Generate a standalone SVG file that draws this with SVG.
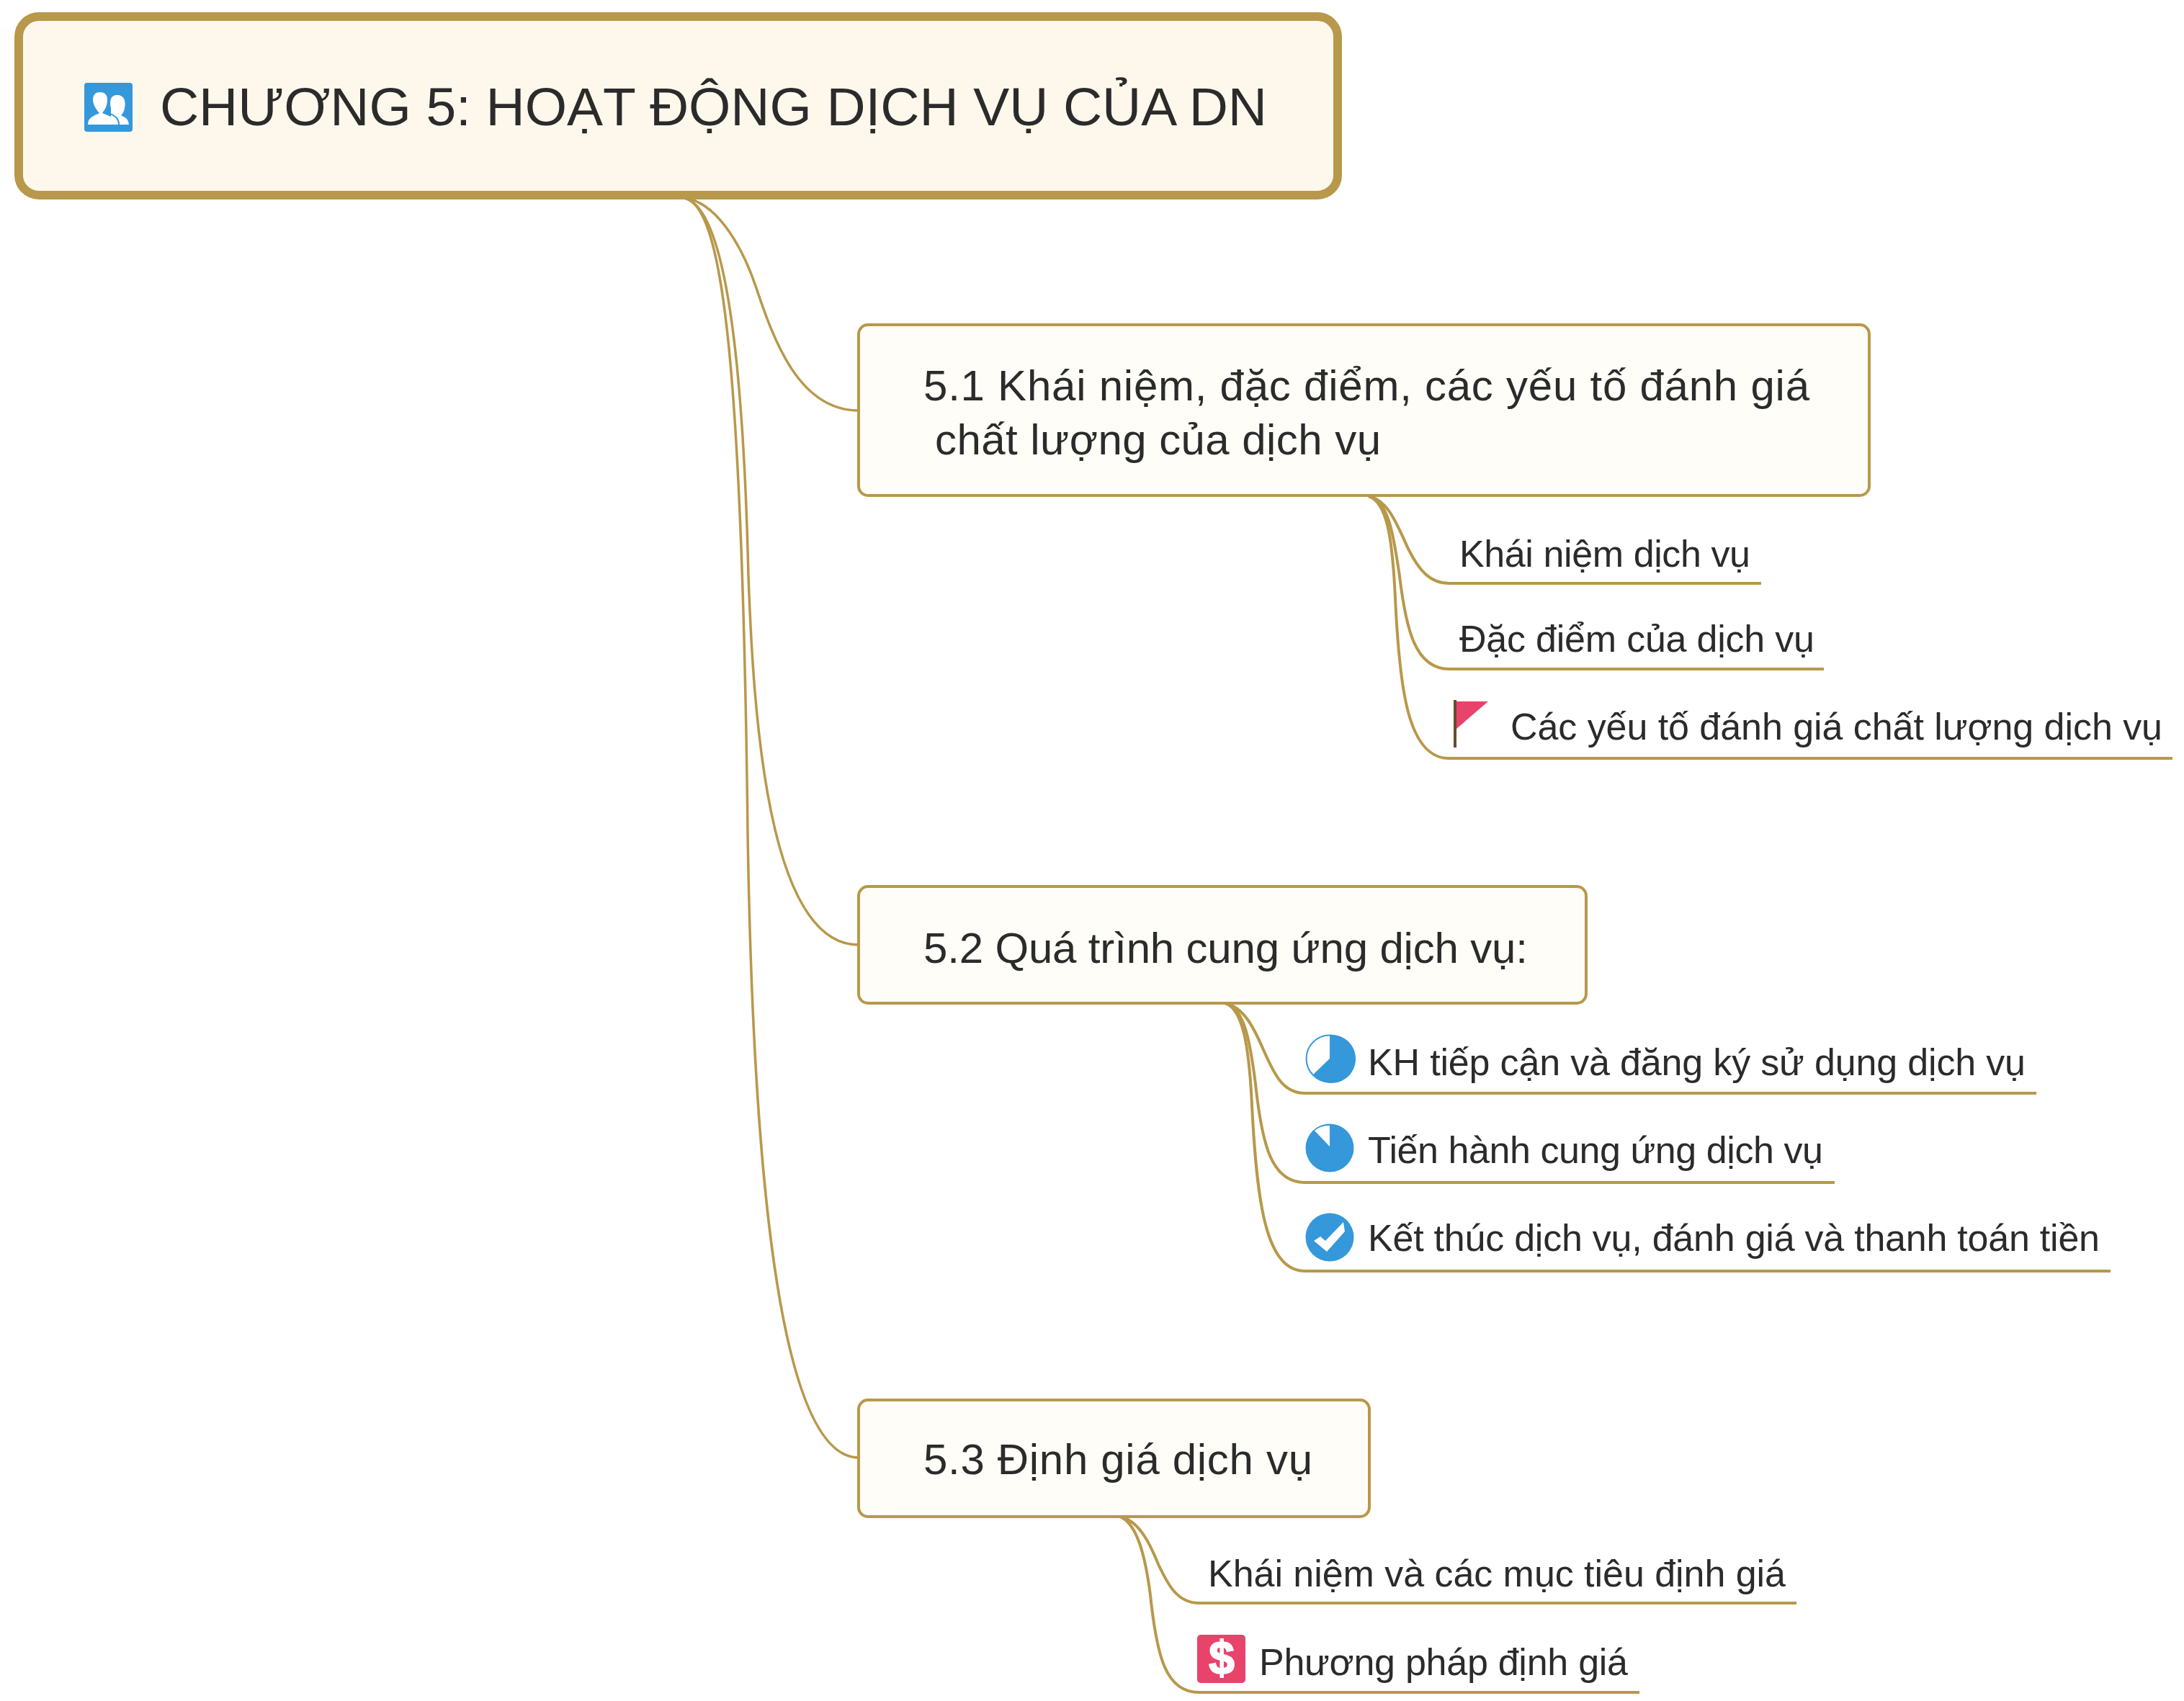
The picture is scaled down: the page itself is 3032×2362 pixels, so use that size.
<svg xmlns="http://www.w3.org/2000/svg" width="3032" height="2362" viewBox="0 0 3032 2362">
<style>
text{font-family:"Liberation Sans",Arial,sans-serif;fill:#2b2b2b}
.r{font-size:75px}.n{font-size:60px}.c{font-size:52px}
.l{fill:none;stroke:#b8984a;stroke-width:3.5}
.u{fill:none;stroke:#b8984a;stroke-width:4}
.b{fill:#fefdf7;stroke:#b8984a;stroke-width:4}
.bl{fill:#3498db}
</style>
<rect width="3032" height="2362" fill="#fff"/>
<g id="connectors">
<path class="l" d="M950 275C992 280 1028 335 1050 400C1075 475 1110 570 1192 570"/>
<path class="l" d="M950 275C995 285 1030 420 1039 800C1046 990 1065 1312 1192 1312"/>
<path class="l" d="M950 275C1000 285 1030 470 1038 1157C1045 1600 1078 2024 1192 2024"/>
<path class="u" d="M1900 689C1928 695 1940 730 1955 762C1970 792 1985 810 2012 810H2445"/>
<path class="u" d="M1900 689C1928 695 1935 745 1943 800C1952 875 1965 929 2012 929H2532"/>
<path class="u" d="M1900 689C1925 697 1933 745 1937 830C1943 960 1955 1053 2012 1053H3016"/>
<path class="u" d="M1701 1393C1728 1399 1742 1430 1755 1460C1770 1494 1782 1518 1812 1518H2827"/>
<path class="u" d="M1701 1393C1728 1399 1736 1450 1743 1505C1752 1590 1765 1642 1812 1642H2547"/>
<path class="u" d="M1701 1393C1725 1401 1734 1450 1738 1535C1745 1670 1757 1765 1812 1765H2930"/>
<path class="u" d="M1552 2105C1580 2110 1595 2140 1608 2172C1622 2202 1635 2226 1665 2226H2494"/>
<path class="u" d="M1552 2105C1578 2112 1590 2160 1597 2215C1606 2300 1618 2350 1665 2350H2276"/>
</g>
<g id="root">
<rect x="26" y="23" width="1831" height="248" rx="28" fill="#fef8ec" stroke="#b8984a" stroke-width="12"/>
<rect x="117" y="115" width="67" height="68" rx="4" class="bl"/>
<path fill="#fff" d="M154 173V150C152 140 153 132 163 132C173 132 175 142 173 150C172 156 170 158 168 160C172 163 178 163 179 173Z"/>
<path fill="#fff" d="M122 173C122 163 130 161 138 157C133 152 129 144 129 139C129 131 133 128 139 128C146 128 149 132 149 139C149 146 146 152 142 157C148 160 160 162 163 173Z"/>
<path fill="none" stroke="#3498db" stroke-width="2" d="M149 156C158 160 165 163 165 173"/>
<text class="r" x="222" y="174" textLength="1537">CHƯƠNG 5: HOẠT ĐỘNG DỊCH VỤ CỦA DN</text>
</g>
<g id="n51">
<rect class="b" x="1192" y="451" width="1403" height="237" rx="13"/>
<text class="n" x="1282" y="556" textLength="1230">5.1 Khái niệm, đặc điểm, các yếu tố đánh giá</text>
<text class="n" x="1298" y="631" textLength="619">chất lượng của dịch vụ</text>
</g>
<g id="n511"><text class="c" x="2026" y="787" textLength="404">Khái niệm dịch vụ</text></g>
<g id="n512"><text class="c" x="2026" y="905" textLength="493">Đặc điểm của dịch vụ</text></g>
<g id="n513">
<path d="M2020 972V1038" stroke="#6b4a2e" stroke-width="4" fill="none"/>
<path d="M2022 974H2066L2022 1012Z" fill="#e8436a"/>
<text class="c" x="2097" y="1027" textLength="905">Các yếu tố đánh giá chất lượng dịch vụ</text>
</g>
<g id="n52">
<rect class="b" x="1192" y="1231" width="1010" height="162" rx="13"/>
<text class="n" x="1282" y="1337" textLength="839">5.2 Quá trình cung ứng dịch vụ:</text>
</g>
<g id="n521">
<circle cx="1846" cy="1470" r="32.5" fill="#fff" stroke="#3498db" stroke-width="2"/>
<path class="bl" d="M1846 1470V1437A33.5 33.5 0 1 1 1823 1492Z"/>
<text class="c" x="1899" y="1493" textLength="913">KH tiếp cận và đăng ký sử dụng dịch vụ</text>
</g>
<g id="n522">
<circle cx="1846" cy="1594" r="33.5" class="bl"/>
<path d="M1846 1563V1592L1825 1570A31 31 0 0 1 1846 1563Z" fill="#fff"/>
<text class="c" x="1899" y="1615" textLength="632">Tiến hành cung ứng dịch vụ</text>
</g>
<g id="n523">
<circle cx="1846" cy="1718" r="33.5" class="bl"/>
<path d="M1824 1723L1842 1738L1867 1710L1865 1697L1840 1723L1833 1717Z" fill="#fff"/>
<text class="c" x="1899" y="1737" textLength="1016">Kết thúc dịch vụ, đánh giá và thanh toán tiền</text>
</g>
<g id="n53">
<rect class="b" x="1192" y="1944" width="709" height="162" rx="13"/>
<text class="n" x="1282" y="2047" textLength="540">5.3 Định giá dịch vụ</text>
</g>
<g id="n531"><text class="c" x="1677" y="2203" textLength="802">Khái niệm và các mục tiêu định giá</text></g>
<g id="n532">
<rect x="1662" y="2270" width="67" height="67" rx="5" fill="#e8436a"/>
<text x="1696" y="2324" font-size="64" font-weight="bold" text-anchor="middle" style="fill:#fff;stroke:#fff;stroke-width:2">$</text>
<text class="c" x="1748" y="2326" textLength="512">Phương pháp định giá</text>
</g>
</svg>
